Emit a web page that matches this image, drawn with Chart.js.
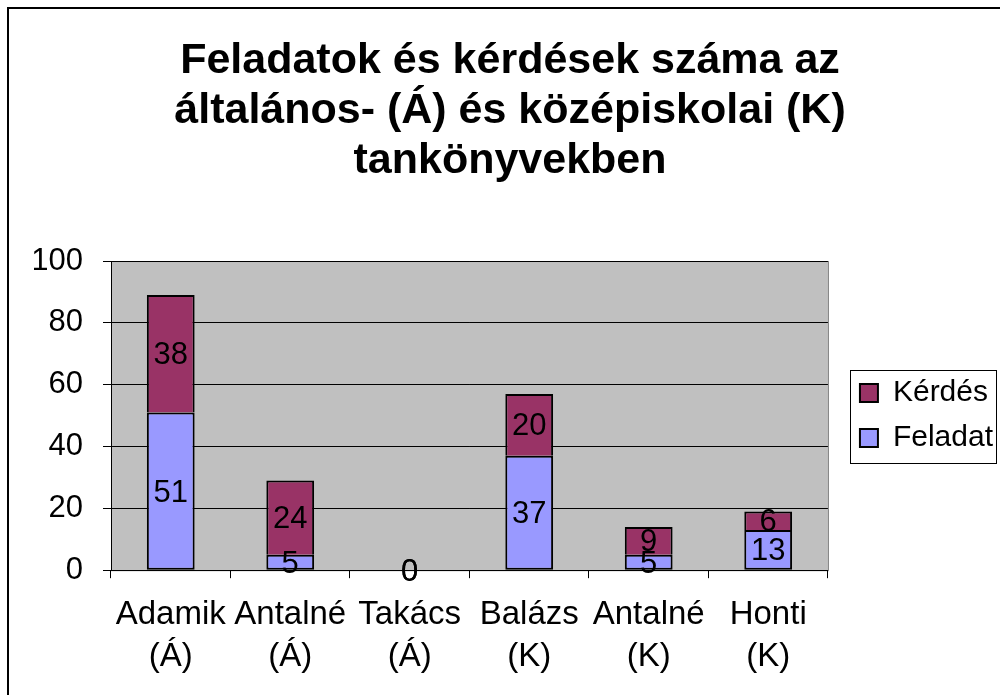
<!DOCTYPE html>
<html>
<head>
<meta charset="utf-8">
<script src="https://cdn.jsdelivr.net/npm/chart.js@4/dist/chart.umd.min.js"></script>
<style>
  body { margin: 0; background: #fff; }
</style>
</head>
<body>
<canvas id="barChart" width="1000" height="695"></canvas>
<script>
const categories = [
    ['Adamik', '(Á)'], ['Antalné', '(Á)'], ['Takács', '(Á)'],
    ['Balázs', '(K)'], ['Antalné', '(K)'], ['Honti', '(K)']
];
const feladatValues = [51, 5, 0, 37, 5, 13];
const kerdesValues = [38, 24, 0, 20, 9, 6];
const yTicks = [0, 20, 40, 60, 80, 100];

const FONT = 'Arial, "Liberation Sans", sans-serif';

// gray plot background + outer frame
const plotBackground = {
    id: 'plotBackground',
    beforeDraw(chart) {
        const { ctx, chartArea: a } = chart;
        ctx.save();
        ctx.fillStyle = '#C0C0C0';
        ctx.fillRect(a.left, a.top, a.right - a.left, a.bottom - a.top);
        ctx.strokeStyle = '#808080';
        ctx.lineWidth = 1;
        ctx.strokeRect(a.left + 0.5, a.top + 0.5, a.right - a.left, a.bottom - a.top);
        // frame of the whole chart (top + left only)
        ctx.strokeStyle = '#000';
        ctx.lineWidth = 2;
        ctx.beginPath();
        ctx.moveTo(8, 695);
        ctx.lineTo(8, 8);
        ctx.lineTo(1000, 8);
        ctx.stroke();
        ctx.restore();
    }
};

// values written in the middle of each bar segment
const barLabels = {
    id: 'barLabels',
    afterDatasetsDraw(chart) {
        const ctx = chart.ctx;
        ctx.save();
        ctx.font = '31px ' + FONT;
        ctx.fillStyle = '#000';
        ctx.textAlign = 'center';
        ctx.textBaseline = 'middle';
        chart.data.datasets.forEach((ds, i) => {
            chart.getDatasetMeta(i).data.forEach((bar, j) => {
                const y = (bar.y + bar.base) / 2;
                ctx.fillText(String(ds.data[j]), bar.x, y + 2);
            });
        });
        ctx.restore();
    }
};

// move the legend a bit to the right and put a box around it
const LEGEND_SHIFT = 17;
const legendFrame = {
    id: 'legendFrame',
    afterLayout(chart) {
        const lg = chart.legend;
        if (!lg) return;
        lg.left += LEGEND_SHIFT;
        lg.right += LEGEND_SHIFT;
    },
    afterDraw(chart) {
        const lg = chart.legend;
        if (!lg) return;
        const a = chart.chartArea;
        const mid = (a.top + a.bottom) / 2;
        const ctx = chart.ctx;
        const left = Math.round(lg.left) + 5;
        ctx.save();
        ctx.strokeStyle = '#000';
        ctx.lineWidth = 1;
        ctx.strokeRect(left + 0.5, Math.round(mid - 46) + 0.5, 996 - left, 93);
        ctx.restore();
    }
};

const ctx = document.getElementById('barChart').getContext('2d');
new Chart(ctx, {
    type: 'bar',
    data: {
        labels: categories,
        datasets: [{
            label: 'Feladat',
            data: feladatValues,
            backgroundColor: '#9999FF',
            borderColor: '#000',
            borderWidth: 2,
            borderSkipped: false,
            barPercentage: 1,
            categoryPercentage: 0.4
        }, {
            label: 'Kérdés',
            data: kerdesValues,
            backgroundColor: '#993366',
            borderColor: '#000',
            borderWidth: 2,
            borderSkipped: 'bottom',
            barPercentage: 1,
            categoryPercentage: 0.4
        }]
    },
    options: {
        responsive: false,
        animation: false,
        layout: { padding: { left: 34, top: 10, right: 14, bottom: 1 } },
        plugins: {
            title: {
                display: true,
                text: ['Feladatok és kérdések száma az', 'általános- (Á) és középiskolai (K)', 'tankönyvekben'],
                color: '#000',
                font: { family: FONT, size: 43, weight: 'bold', lineHeight: 1.163 },
                padding: { top: 26, bottom: 75 }
            },
            legend: {
                position: 'right',
                fullSize: false,
                reverse: true,
                labels: {
                    color: '#000',
                    font: { family: FONT, size: 30 },
                    boxWidth: 18,
                    boxHeight: 18,
                    padding: 15,
                    generateLabels(chart) {
                        return chart.data.datasets.map((ds, i) => ({
                            text: ds.label,
                            fillStyle: ds.backgroundColor,
                            strokeStyle: '#000',
                            lineWidth: 2,
                            fontColor: '#000',
                            datasetIndex: i
                        }));
                    }
                }
            },
            tooltip: { enabled: false }
        },
        scales: {
            x: {
                stacked: true,
                grid: {
                    offset: true,
                    drawOnChartArea: false,
                    drawTicks: true,
                    tickLength: 8,
                    color: '#000'
                },
                border: { color: '#000', width: 1 },
                ticks: {
                    color: '#000',
                    font: { family: FONT, size: 33, lineHeight: 1.27 },
                    padding: 16,
                    maxRotation: 0,
                    autoSkip: false
                }
            },
            y: {
                stacked: true,
                min: 0,
                max: 100,
                afterBuildTicks(axis) {
                    axis.ticks = yTicks.map(v => ({ value: v }));
                },
                afterFit(axis) {
                    axis.width = 77;
                },
                grid: {
                    color: '#000',
                    tickLength: 8
                },
                border: { color: '#000', width: 1 },
                ticks: {
                    color: '#000',
                    font: { family: FONT, size: 31 },
                    padding: 20
                }
            }
        }
    },
    plugins: [plotBackground, barLabels, legendFrame]
});
</script>
</body>
</html>
